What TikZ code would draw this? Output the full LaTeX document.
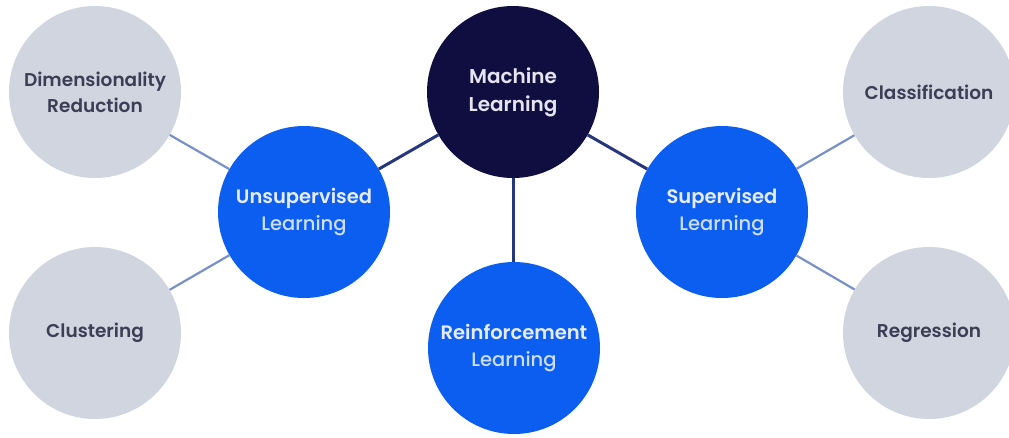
\documentclass[tikz,border=0pt]{standalone}
\usepackage{fontspec}
\setmainfont{Poppins}[UprightFont=* Medium, BoldFont=* SemiBold]
\definecolor{navy}{RGB}{16,14,64}
\definecolor{mlblue}{RGB}{11,94,240}
\definecolor{lightgrey}{RGB}{208,213,223}
\definecolor{greytext}{RGB}{60,62,85}
\definecolor{bluetxtA}{RGB}{230,236,252}
\definecolor{bluetxtB}{RGB}{205,222,255}
\definecolor{mltxt}{RGB}{228,228,238}
\definecolor{greyline}{RGB}{120,145,200}
\definecolor{navyline}{RGB}{38,55,125}
\tikzset{
  bubble/.style={circle, inner sep=0pt, minimum size=172pt, align=center},
  rootbubble/.style={bubble, fill=navy, text=mltxt, font=\fontsize{20}{28}\selectfont\bfseries},
  midbubble/.style={bubble, fill=mlblue, font=\fontsize{19.5}{27}\selectfont},
  leafbubble/.style={bubble, fill=lightgrey, text=greytext, font=\fontsize{18.5}{26}\selectfont\bfseries},
  navyconn/.style={draw=navyline, line width=3pt},
  greyconn/.style={draw=greyline, line width=2.2pt}
}
\newcommand{\twoline}[2]{\textcolor{bluetxtA}{\bfseries #1}\\\textcolor{bluetxtB}{\mdseries #2}}
\begin{document}
\begin{tikzpicture}[x=1pt,y=-1pt]
\useasboundingbox (0,0) rectangle (1009,437);
\clip (0,0) rectangle (1009,437);
\fill[white] (0,0) rectangle (1009,437);
\node[rootbubble] (ml) at (513,92) {Machine\\Learning};
\node[midbubble] (unsup) at (304,212) {\twoline{Unsupervised}{Learning}};
\node[midbubble] (sup) at (722,212) {\twoline{Supervised}{Learning}};
\node[midbubble] (rein) at (514,348) {\twoline{Reinforcement}{Learning}};
\node[leafbubble] (dim) at (95,92) {Dimensionality\\Reduction};
\node[leafbubble] (clu) at (95,333) {Clustering};
\node[leafbubble] (cla) at (929,92) {Classification};
\node[leafbubble] (reg) at (929,333) {Regression};
\path[navyconn] (ml) -- (unsup);
\path[navyconn] (ml) -- (sup);
\path[navyconn] (ml.south) -- (ml.south |- rein.north);
\path[greyconn] (dim) -- (unsup);
\path[greyconn] (clu) -- (unsup);
\path[greyconn] (cla) -- (sup);
\path[greyconn] (reg) -- (sup);
\end{tikzpicture}
\end{document}
